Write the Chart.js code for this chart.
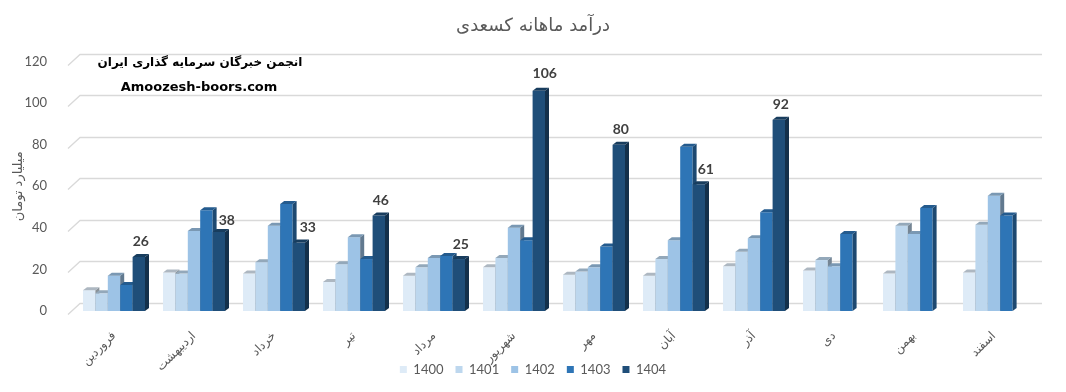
<!DOCTYPE html>
<html>
<head>
<meta charset="utf-8">
<script src="https://cdn.jsdelivr.net/npm/chart.js@4/dist/chart.umd.min.js"></script>
<style>
  html, body { margin: 0; padding: 0; background: #fff; }
</style>
</head>
<body>
<canvas id="chart" width="1066" height="392"></canvas>
<script>
// months (Persian calendar)
const months = ['فروردین', 'اردیبهشت', 'خرداد', 'تیر', 'مرداد', 'شهریور', 'مهر', 'آبان', 'آذر', 'دی', 'بهمن', 'اسفند'];

// monthly revenue, billion toman
const y1400 = [10, 18.5, 18, 14, 17, 21, 17.5, 17, 21.5, 19.5, 18, 18.5];
const y1401 = [8.5, 18, 23.5, 22.5, 21, 25.5, 19, 25, 28.5, 24.5, 41, 41.5];
const y1402 = [17, 38.5, 41, 35.5, 25.5, 40, 21, 34, 35, 21.5, 37, 55.5];
const y1403 = [12.5, 48.5, 51.5, 25, 26.5, 34, 31, 79, 47.5, 37, 49.5, 46];
const y1404 = [26, 38, 33, 46, 25, 106, 80, 61, 92, null, null, null];

const yTicks = [0, 20, 40, 60, 80, 100, 120];

const years = ['1400', '1401', '1402', '1403', '1404'];
const colors = ['#DEEBF7', '#BDD7EE', '#9DC3E6', '#2E75B6', '#1F4E79'];
const series = [y1400, y1401, y1402, y1403, y1404];

// labels pushed sideways where a taller neighbour is in the way
const labelNudge = { 1: [6, 3], 2: [7, 0], 5: [4, -2], 7: [5, 0] };

function shade(hex, f) {
    let r = parseInt(hex.slice(1, 3), 16);
    let g = parseInt(hex.slice(3, 5), 16);
    let b = parseInt(hex.slice(5, 7), 16);
    return 'rgb(' + Math.round(r * f) + ',' + Math.round(g * f) + ',' + Math.round(b * f) + ')';
}

const DX = 4, DY = 3;

// let the rotated month names hang below the x scale box without clipping
const noClip = {
    id: 'noClip',
    afterLayout(chart) {
        chart.scales.x.bottom = chart.height;
    }
};

// back wall gridlines with the little 3D stub at the left
const wallGrid = {
    id: 'wallGrid',
    beforeDatasetsDraw(chart) {
        const ctx = chart.ctx;
        const y = chart.scales.y;
        const a = chart.chartArea;
        ctx.save();
        ctx.strokeStyle = '#d9d9d9';
        ctx.lineWidth = 1.3;
        yTicks.forEach(v => {
            const py = Math.round(y.getPixelForValue(v)) + 0.5;
            ctx.beginPath();
            ctx.moveTo(a.left - 6, py + 3);
            ctx.lineTo(a.left + 6, py - 8);
            ctx.lineTo(a.right + 8, py - 8);
            ctx.stroke();
        });
        ctx.restore();
    }
};

// bars drawn left to right so each front face hides the previous side face
const bars3d = {
    id: 'bars3d',
    beforeDatasetDraw() {
        return false;
    },
    afterDatasetsDraw(chart) {
        const ctx = chart.ctx;
        ctx.save();
        series.forEach((s, di) => {
            const col = colors[di];
            chart.getDatasetMeta(di).data.forEach((bar, i) => {
                if (s[i] == null) return;
                bar.draw(ctx);
                const l = bar.x - bar.width / 2, r = bar.x + bar.width / 2;
                const t = bar.y, b = bar.base;
                ctx.fillStyle = shade(col, 0.62);
                ctx.beginPath();
                ctx.moveTo(r, t);
                ctx.lineTo(r + DX, t - DY);
                ctx.lineTo(r + DX, b - DY);
                ctx.lineTo(r, b);
                ctx.closePath();
                ctx.fill();
                ctx.fillStyle = shade(col, 0.78);
                ctx.beginPath();
                ctx.moveTo(l, t);
                ctx.lineTo(l + DX, t - DY);
                ctx.lineTo(r + DX, t - DY);
                ctx.lineTo(r, t);
                ctx.closePath();
                ctx.fill();
            });
        });
        ctx.restore();
    }
};

// value labels on 1404 and the watermark text
const extras = {
    id: 'extras',
    afterDraw(chart) {
        const ctx = chart.ctx;
        const meta = chart.getDatasetMeta(4);
        ctx.save();
        ctx.fillStyle = '#404040';
        ctx.font = 'bold 14px Lato, "Open Sans", sans-serif';
        ctx.textAlign = 'center';
        ctx.textBaseline = 'middle';
        meta.data.forEach((bar, i) => {
            if (y1404[i] == null) return;
            const n = labelNudge[i] || [0, 0];
            ctx.fillText(String(y1404[i]), bar.x + 2 + n[0], bar.y - 15 + n[1]);
        });
        ctx.fillStyle = '#000';
        ctx.font = 'bold 12px "DejaVu Sans", sans-serif';
        ctx.fillText('انجمن خبرگان سرمایه گذاری ایران', 200, 63);
        ctx.font = 'bold 13px "DejaVu Sans", sans-serif';
        ctx.fillText('Amoozesh-boors.com', 199, 88);
        ctx.restore();
    }
};

const ctx = document.getElementById('chart');

const myChart = new Chart(ctx, {
    type: 'bar',
    data: {
        labels: months,
        datasets: series.map((s, i) => ({
            label: years[i],
            data: s,
            backgroundColor: colors[i],
            borderWidth: 0,
            categoryPercentage: 0.775,
            barPercentage: 1,
        }))
    },
    options: {
        responsive: false,
        animation: false,
        devicePixelRatio: 1,
        layout: { padding: { left: 0, right: 0, top: 0, bottom: 6 } },
        plugins: {
            title: {
                display: true,
                text: 'درآمد ماهانه کسعدی',
                color: '#595959',
                font: { family: '"DejaVu Sans"', size: 18, weight: 'normal' },
                padding: { top: 16, bottom: 24 }
            },
            legend: {
                position: 'bottom',
                labels: {
                    boxWidth: 7,
                    boxHeight: 7,
                    padding: 12,
                    color: '#595959',
                    font: { family: 'Lato', size: 13 }
                }
            },
            tooltip: { enabled: false }
        },
        scales: {
            x: {
                grid: { display: false },
                border: { display: false },
                ticks: {
                    color: '#595959',
                    font: { family: '"DejaVu Sans"', size: 12 },
                    maxRotation: 45,
                    minRotation: 45,
                    padding: 10
                },
                afterFit: s => { s.height = 40; }
            },
            y: {
                min: 0,
                max: 120,
                grid: { display: false },
                border: { display: false },
                afterBuildTicks: s => { s.ticks = yTicks.map(v => ({ value: v })); },
                ticks: {
                    color: '#595959',
                    font: { family: 'Lato', size: 13 },
                    padding: 19
                },
                title: {
                    display: true,
                    text: 'میلیارد تومان',
                    color: '#595959',
                    font: { family: '"DejaVu Sans"', size: 13 },
                    padding: { top: 11, bottom: 0 }
                },
                afterFit: s => { s.width = 74; }
            },
            // empty right margin, keeps the legend centred on the whole canvas
            side: {
                position: 'right',
                grid: { display: false },
                border: { display: false },
                ticks: { display: false },
                afterFit: s => { s.width = 32; }
            }
        }
    },
    plugins: [noClip, wallGrid, bars3d, extras]
});
</script>
</body>
</html>
